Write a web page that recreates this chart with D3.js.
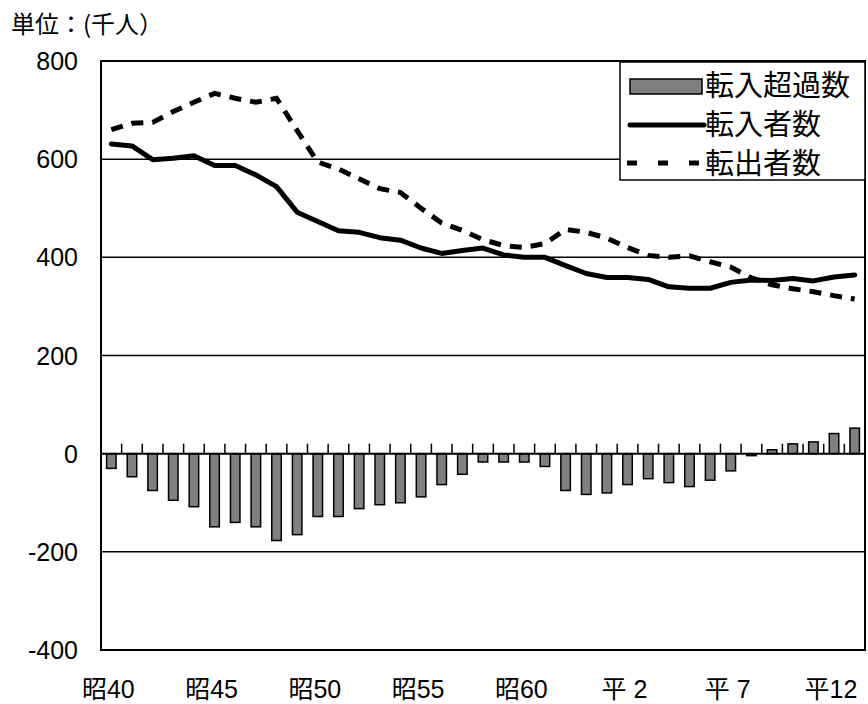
<!DOCTYPE html>
<html><head><meta charset="utf-8">
<script src="https://cdn.jsdelivr.net/npm/d3@7"></script>
<style>
html,body{margin:0;padding:0;background:#fff;}
svg{display:block;}
</style></head>
<body>
<svg id="chart" width="868" height="704"></svg>
<script>
// Categories: 昭40 (1965) ... 昭63, 平1 ... 平13
const categories = ["昭40","昭41","昭42","昭43","昭44","昭45","昭46","昭47","昭48","昭49",
  "昭50","昭51","昭52","昭53","昭54","昭55","昭56","昭57","昭58","昭59",
  "昭60","昭61","昭62","昭63","平1","平2","平3","平4","平5","平6",
  "平7","平8","平9","平10","平11","平12","平13"];
const tickLabels = {"昭40":"昭40","昭45":"昭45","昭50":"昭50","昭55":"昭55","昭60":"昭60","平2":"平 2","平7":"平 7","平12":"平12"};
const yTicks = [800, 600, 400, 200, 0, -200, -400];

// 転入者数 (千人)
const inflow = [631,627,599,602,607,587,587,568,544,492,473,454,451,440,435,419,408,414,419,405,
  400,400,383,367,359,359,355,340,337,337,349,354,353,357,352,360,364];
// 転出者数 (千人)
const outflow = [660,673,675,697,716,734,724,716,724,658,594,580,560,540,532,500,470,455,436,424,
  420,428,457,451,439,420,404,400,403,391,380,358,344,336,330,322,315];
// 転入超過数 (千人)
const netInflow = [-30,-47,-75,-95,-108,-149,-140,-149,-177,-165,-128,-128,-112,-104,-100,-88,-63,-42,-17,-17,
  -17,-26,-75,-83,-80,-63,-51,-59,-67,-54,-35,-4,8,20,24,41,52];

const seriesNames = ["転入超過数","転入者数","転出者数"];

const svg = d3.select("#chart");
const L = 101, R = 865, T = 61, B = 650;

const x = d3.scaleBand().domain(categories).range([L, R]).paddingInner(0).paddingOuter(0);
const y = d3.scaleLinear().domain([-400, 800]).range([B, T]);
const cx = c => x(c) + x.bandwidth() / 2;

const latin = "'Liberation Sans', Arial, 'Noto Sans CJK JP', sans-serif";
const cjk = "'Noto Sans CJK JP', 'Liberation Sans', sans-serif";

// title
svg.append("text").attr("x", 11).attr("y", 33)
  .attr("font-family", cjk).attr("font-size", 24).attr("fill", "#000")
  .text("単位：(千人）");

// gridlines
svg.append("g").selectAll("line").data(yTicks.filter(v => v !== 0 && v !== 800 && v !== -400))
  .join("line")
  .attr("x1", L).attr("x2", R)
  .attr("y1", d => y(d)).attr("y2", d => y(d))
  .attr("stroke", "#000").attr("stroke-width", 1.5);

// y axis labels
svg.append("g").selectAll("text").data(yTicks).join("text")
  .attr("x", 78).attr("y", d => y(d)).attr("dy", "0.36em")
  .attr("text-anchor", "end")
  .attr("font-family", latin).attr("font-size", 25).attr("fill", "#000")
  .text(d => d);

// bars
const bw = x.bandwidth() * 0.46;
svg.append("g").selectAll("rect").data(categories).join("rect")
  .attr("x", (c) => cx(c) - bw / 2)
  .attr("width", bw)
  .attr("y", (c, i) => y(Math.max(0, netInflow[i])))
  .attr("height", (c, i) => Math.abs(y(netInflow[i]) - y(0)))
  .attr("fill", "#808080").attr("stroke", "#000").attr("stroke-width", 1.5);

// category axis at 0 with upward ticks
svg.append("line").attr("x1", L).attr("x2", R).attr("y1", y(0)).attr("y2", y(0))
  .attr("stroke", "#000").attr("stroke-width", 2);
svg.append("g").selectAll("line").data(categories.slice(1)).join("line")
  .attr("x1", c => x(c)).attr("x2", c => x(c))
  .attr("y1", y(0)).attr("y2", y(0) - 10)
  .attr("stroke", "#000").attr("stroke-width", 1.5);

// lines
const line = d3.line().x(d => cx(d.c)).y(d => y(d.v));
svg.append("path")
  .attr("d", line(categories.map((c, i) => ({c, v: outflow[i]}))))
  .attr("fill", "none").attr("stroke", "#000").attr("stroke-width", 5)
  .attr("stroke-dasharray", "12,9").attr("stroke-linejoin", "miter");
svg.append("path")
  .attr("d", line(categories.map((c, i) => ({c, v: inflow[i]}))))
  .attr("fill", "none").attr("stroke", "#000").attr("stroke-width", 5)
  .attr("stroke-linejoin", "round").attr("stroke-linecap", "round");

// plot border
svg.append("rect").attr("x", L).attr("y", T).attr("width", R - L).attr("height", B - T)
  .attr("fill", "none").attr("stroke", "#000").attr("stroke-width", 2);

// x labels
svg.append("g").selectAll("text").data(categories.filter(c => tickLabels[c])).join("text")
  .attr("x", c => cx(c) - 3).attr("y", 698)
  .attr("text-anchor", "middle")
  .attr("font-family", latin).attr("font-size", 25).attr("fill", "#000")
  .text(c => tickLabels[c]);

// legend
const lg = svg.append("g");
lg.append("rect").attr("x", 620).attr("y", 62).attr("width", 245).attr("height", 118)
  .attr("fill", "#fff").attr("stroke", "#000").attr("stroke-width", 1.5);
lg.append("rect").attr("x", 630).attr("y", 79).attr("width", 72).attr("height", 15)
  .attr("fill", "#808080").attr("stroke", "#000").attr("stroke-width", 1.5);
lg.append("line").attr("x1", 630).attr("x2", 704).attr("y1", 125).attr("y2", 125)
  .attr("stroke", "#000").attr("stroke-width", 5).attr("stroke-linecap", "round");
lg.append("line").attr("x1", 627).attr("x2", 700).attr("y1", 163).attr("y2", 163)
  .attr("stroke", "#000").attr("stroke-width", 5).attr("stroke-dasharray", "10,21");
lg.selectAll("text.lt").data(seriesNames).join("text").attr("class", "lt")
  .attr("x", 705).attr("y", (d, i) => 86 + i * 39).attr("dy", "0.36em")
  .attr("font-family", cjk).attr("font-size", 29).attr("fill", "#000")
  .text(d => d);
</script>
</body></html>
